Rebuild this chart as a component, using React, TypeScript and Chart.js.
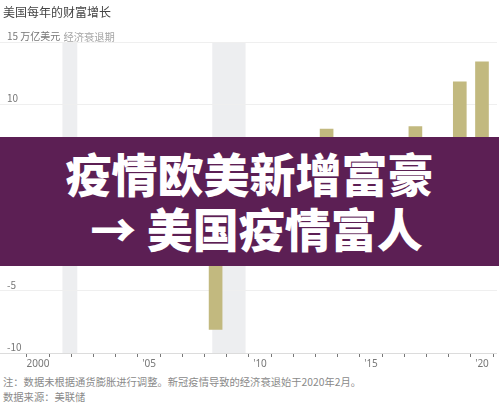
import React, { useEffect, useRef } from 'react';
import { Chart, registerables } from 'chart.js';

Chart.register(...registerables);

// yearly change in US household wealth, trillion USD
const years = [2000, 2001, 2002, 2003, 2004, 2005, 2006, 2007, 2008, 2009, 2010,
  2011, 2012, 2013, 2014, 2015, 2016, 2017, 2018, 2019, 2020];
const wealthChange = [-0.4, -0.6, -1.4, 5.6, 5.4, 5.8, 4.6, 1.0, -8.1, 2.8, 3.9,
  0.8, 5.1, 8.0, 5.3, 2.3, 4.8, 8.2, 0.9, 11.8, 13.4];

// recession periods (fractional years)
const recessionStart = [2001.1, 2007.85];
const recessionEnd = [2001.77, 2009.35];

const yTicks = [-10, -5, 0, 5, 10, 15];
const xLabelYears = [2000, 2005, 2010, 2015, 2020];

const recessionPlugin = {
  id: 'recessions',
  beforeDraw(chart: any) {
    const { ctx, chartArea, scales } = chart;
    const x = scales.x;
    ctx.save();
    ctx.fillStyle = '#edeef0';
    recessionStart.forEach((s, i) => {
      const x0 = x.getPixelForValue(s);
      const x1 = x.getPixelForValue(recessionEnd[i]);
      ctx.fillRect(x0, chartArea.top, x1 - x0, chartArea.bottom - chartArea.top);
    });
    ctx.restore();
  },
  afterDraw(chart: any) {
    const { ctx, scales } = chart;
    const x0 = scales.x.getPixelForValue(recessionStart[0]);
    const y0 = scales.y.getPixelForValue(15);
    ctx.save();
    ctx.font = '10.3px "Noto Sans CJK SC", sans-serif';
    ctx.fillStyle = '#a6a6a6';
    ctx.textBaseline = 'middle';
    ctx.fillText('经济衰退期', x0 + 1, y0 - 5);
    ctx.restore();
  },
};

const App: React.FC = () => {
  const chartRef = useRef<HTMLCanvasElement | null>(null);

  useEffect(() => {
    if (!chartRef.current) return;
    const ctx = chartRef.current.getContext('2d');
    if (!ctx) return;

    const myChart = new Chart(ctx, {
      type: 'bar',
      data: {
        datasets: [
          {
            data: years.map((yr, i) => ({ x: yr, y: wealthChange[i] })),
            backgroundColor: '#c2b97f',
            barThickness: 13,
          },
        ],
      },
      options: {
        animation: false,
        responsive: false,
        maintainAspectRatio: false,
        layout: { padding: { top: 42, left: 0, right: 2, bottom: 0 } },
        plugins: {
          legend: { display: false },
          tooltip: { enabled: false },
        },
        scales: {
          x: {
            type: 'linear',
            offset: false,
            min: 1998.288,
            max: 2020.676,
            afterBuildTicks: (scale: any) => {
              scale.ticks = years.map(v => ({ value: v }));
            },
            ticks: {
              autoSkip: false,
              maxRotation: 0,
              padding: 1,
              color: '#777',
              font: { family: '"Noto Sans", sans-serif', size: 10 },
              callback: (v: any) => {
                if (!xLabelYears.includes(v)) return '';
                return v === 2000 ? '2000' : "'" + String(v).slice(2);
              },
            },
            grid: {
              drawOnChartArea: false,
              drawTicks: true,
              tickLength: 4,
              tickColor: '#777',
            },
            border: { display: false },
          },
          y: {
            min: -10,
            max: 15,
            afterBuildTicks: (scale: any) => {
              scale.ticks = yTicks.map(v => ({ value: v }));
            },
            afterFit: (scale: any) => {
              scale.width = 0;
            },
            ticks: {
              mirror: true,
              padding: 7,
              labelOffset: -6,
              color: '#777',
              font: { family: '"Noto Sans CJK SC", sans-serif', size: 10 },
              callback: (v: any) => {
                if (v === 0 || v === 5) return '';
                return v === 15 ? '15 万亿美元' : String(v);
              },
            },
            grid: {
              color: (c: any) => (c.tick && c.tick.value === -10 ? '#dcdcdc' : '#efefef'),
              lineWidth: 1,
              drawTicks: false,
            },
            border: { display: false },
          },
        },
      },
      plugins: [recessionPlugin],
    });

    return () => {
      myChart.destroy();
    };
  }, []);

  return (
    <div
      style={{
        position: 'fixed',
        left: 0,
        top: 0,
        width: 499,
        height: 405,
        background: '#fff',
        fontFamily: '"Noto Sans CJK SC", sans-serif',
        overflow: 'hidden',
      }}
    >
      <canvas ref={chartRef} width={499} height={371} style={{ position: 'absolute', left: 0, top: 0 }} />
      <div style={{ position: 'absolute', left: 3, top: 3, fontSize: 12, color: '#444', lineHeight: '17px' }}>
        美国每年的财富增长
      </div>
      <div
        style={{
          position: 'absolute',
          left: 0,
          top: 137,
          width: 499,
          height: 129,
          background: '#5c1f54',
          color: '#fff',
          fontWeight: 900,
          fontSize: 46,
          lineHeight: '55px',
          textAlign: 'center',
          display: 'flex',
          flexDirection: 'column',
          justifyContent: 'center',
        }}
      >
        <div style={{ marginTop: -4 }}>疫情欧美新增富豪</div>
        <div style={{ paddingLeft: 14 }}>→ 美国疫情富人</div>
      </div>
      <div style={{ position: 'absolute', left: 3, top: 374, fontSize: 10.3, color: '#8a8a8a', lineHeight: '15px' }}>
        <div>注：数据未根据通货膨胀进行调整。新冠疫情导致的经济衰退始于2020年2月。</div>
        <div>数据来源：美联储</div>
      </div>
    </div>
  );
};

export default App;
